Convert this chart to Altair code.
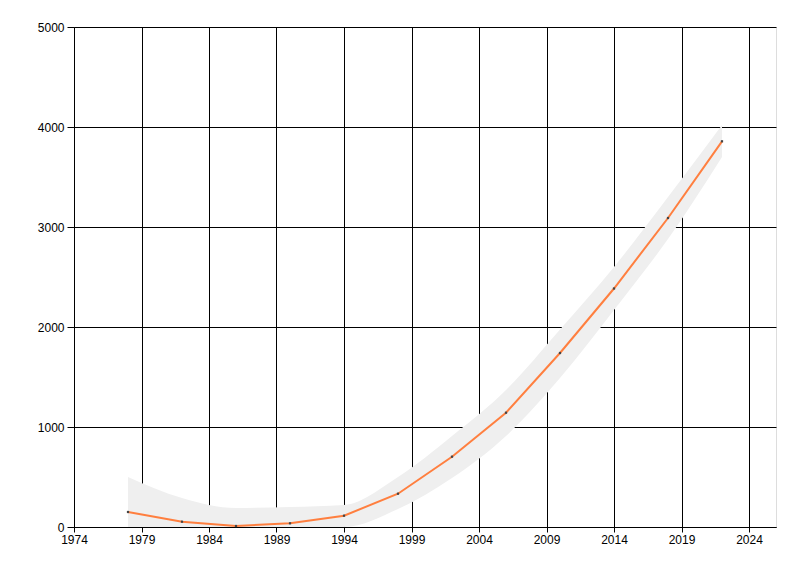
import altair as alt
import pandas as pd

years = [1978, 1982, 1986, 1990, 1994, 1998, 2002, 2006, 2010, 2014, 2018, 2022]
values = [150, 53, 10, 37, 113, 333, 703, 1143, 1740, 2385, 3090, 3857]
upper = [500, 290, 190, 200, 220, 500, 910, 1370, 1975, 2600, 3300, 4020]
lower = [0, 0, 0, 0, 0, 180, 490, 910, 1490, 2170, 2880, 3700]
x_ticks = [1974, 1979, 1984, 1989, 1994, 1999, 2004, 2009, 2014, 2019, 2024]
y_ticks = [0, 1000, 2000, 3000, 4000, 5000]

df = pd.DataFrame({"year": years, "value": values, "upper": upper, "lower": lower})

FONT = "Liberation Sans"

x_enc = alt.X("year:Q", scale=alt.Scale(domain=[1974, 2026], nice=False, zero=False),
              axis=alt.Axis(values=x_ticks, format="d", title=None, grid=True,
                            gridColor="black", gridOpacity=1, gridWidth=1,
                            domainColor="black", tickColor="black", tickSize=5,
                            labelColor="black", labelFont=FONT, labelFontSize=12,
                            labelPadding=2, labelFlush=False))
y_enc = alt.Y("value:Q", scale=alt.Scale(domain=[0, 5000], nice=False),
              axis=alt.Axis(values=y_ticks, format="d", title=None, grid=True,
                            gridColor="black", gridOpacity=1, gridWidth=1,
                            domainColor="black", tickColor="black", tickSize=7,
                            labelColor="black", labelFont=FONT, labelFontSize=12,
                            labelPadding=3, labelFlush=False))

band = alt.Chart(df).mark_area(color="#efefef", opacity=1, interpolate="monotone").encode(
    x=alt.X("year:Q", scale=alt.Scale(domain=[1974, 2026], nice=False, zero=False)),
    y=alt.Y("upper:Q", scale=alt.Scale(domain=[0, 5000], nice=False)),
    y2="lower:Q",
)

grid = alt.Chart(df).mark_point(opacity=0).encode(x=x_enc, y=y_enc)

line = alt.Chart(df).mark_line(color="#FF7F3F", strokeWidth=2).encode(
    x="year:Q", y="value:Q")

pts = alt.Chart(df).mark_square(color="#444444", size=5, opacity=1).encode(
    x="year:Q", y="value:Q")

chart = alt.layer(band, grid, line, pts).properties(
    width=702, height=500,
    autosize=alt.AutoSizeParams(type="none"),
    padding={"left": 66, "top": 19, "right": 10, "bottom": 40},
).configure_view(stroke=None).configure(background="white")

chart.save("out.html", embed_options={"renderer": "svg", "actions": False})
